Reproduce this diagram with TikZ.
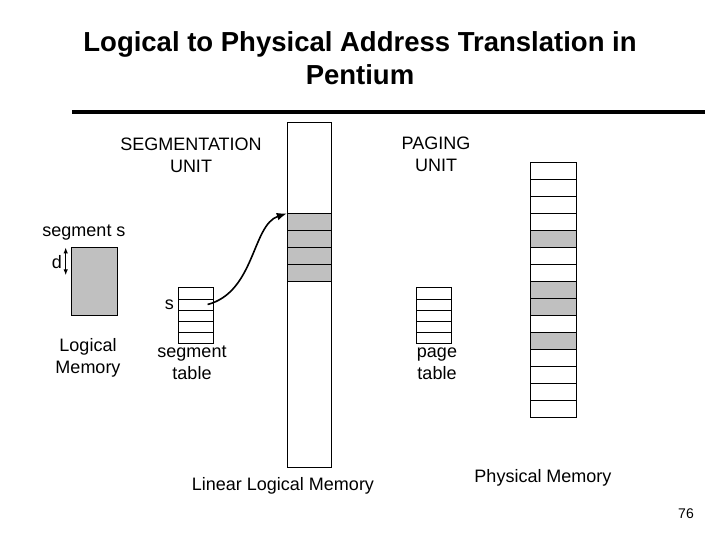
\documentclass[tikz,border=0pt]{standalone}
\usepackage{fontspec}
\setmainfont{Liberation Sans}
\usetikzlibrary{arrows.meta,positioning}
\definecolor{silver}{RGB}{192,192,192}

\begin{document}
\begin{tikzpicture}[x=1pt, y=-1pt, every node/.style={font=\fontsize{18}{22}\selectfont, align=center}, cell/.style={draw, line width=0.8pt, inner sep=0pt, anchor=north west, minimum width=#1}, cell/.default=34.5pt, free/.style={cell=45.7pt, minimum height=17pt, fill=white}, used/.style={free, fill=silver}, arr/.style={-Latex, line width=1.6pt}]
\useasboundingbox (0,0) rectangle (720,540);
% title
\node[font=\bfseries\fontsize{27.5}{33}\selectfont] (title) at (360,58) {Logical to Physical Address Translation in\\Pentium};
\draw[line width=4pt] (72,112) -- (705,112);
\node (segunit) at (191,155) {SEGMENTATION\\UNIT};
\node (pagunit) at (436,154) {PAGING\\UNIT};
% logical memory
\node[cell=46pt, minimum height=67.7pt, fill=silver] (lmem) at (70.7,247.3) {};
\node (segs) at (84,233) {segment s};
\coordinate (dtop) at ([xshift=-5pt]lmem.north west);
\coordinate (dbot) at ([xshift=-5pt, yshift=-28pt]lmem.north west);
\draw[{Latex[length=6pt]}-{Latex[length=6pt]}, line width=1.2pt] (dtop) -- (dbot);
\node (d) at (57,262) {d};
\node (lmlabel) at (88,358) {Logical\\Memory};
% segment table
\foreach \i in {1,...,5}
  \node[cell, minimum height=11.2pt] (seg\i) at (178.3,{287.3+(\i-1)*11.2}) {};
\node[left=1pt of seg2] (s) {s};
\node (stlabel) at (192,363) {segment\\table};
% linear logical memory
\node[cell=44pt, minimum height=345pt] (lin) at (287,122) {};
\foreach \i in {1,...,4}
  \node[used, cell=44pt] (lin\i) at (287,{213.3+(\i-1)*17}) {};
\node (linlabel) at (283,486) {Linear Logical Memory};
\draw[arr] ([xshift=-6pt]seg2.east) .. controls (255,292) and (252,225) .. (lin1.north west);
% page table
\foreach \i in {1,...,5}
  \node[cell, minimum height=11.2pt] (pt\i) at (416,{287.3+(\i-1)*11.2}) {};
\node (ptlabel) at (437,364) {page\\table};
% physical memory
\foreach \i/\k in {1/free,2/free,3/free,4/free,5/used,6/free,7/free,8/used,9/used,10/free,11/used,12/free,13/free,14/free,15/free}
  \node[\k] (phys\i) at (530,{162.3+(\i-1)*17}) {};
\node (physlabel) at (543,478) {Physical Memory};
\node[font=\fontsize{14}{16}\selectfont] (page) at (686,514) {76};
\end{tikzpicture}
\end{document}
